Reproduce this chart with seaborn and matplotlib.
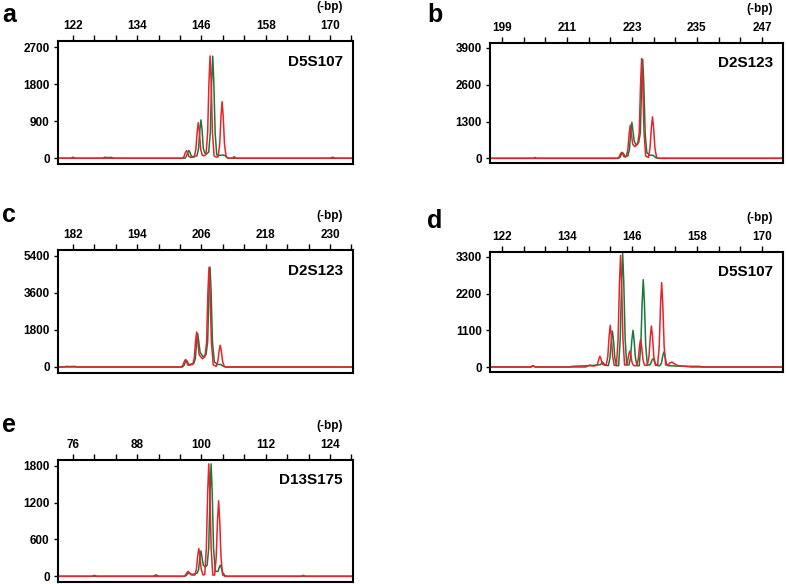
import matplotlib
matplotlib.use("Agg")
import numpy as np
import pandas as pd
import matplotlib.pyplot as plt
import seaborn as sns

# ---- data (size in bp, signal in RFU) ----
# panel a : D5S107
a_ticks = [122, 134, 146, 158, 170]
a_yticks = [0, 900, 1800, 2700]
a_green_bp = [119.2, 121.6, 122.0, 122.4, 127.5, 128.0, 128.5, 129.2, 129.6, 142.9,
              143.2, 143.45, 143.65, 143.85, 144.1, 144.4,
              145.15, 145.45, 145.7, 145.9, 146.1, 146.35, 146.65, 147.0,
              147.35, 147.65, 147.9, 148.1, 148.3, 148.55, 148.85,
              149.4, 150.0, 150.5, 151.0, 170.0, 170.5, 171.0, 174.3]
a_green_rfu = [0, 0, 25, 0, 0, 25, 15, 20, 0, 0,
               48, 142, 190, 142, 48, 40,
               60, 233, 699, 932, 699, 233, 120, 110,
               150, 620, 1860, 2480, 1860, 620, 80,
               70, 80, 60, 0, 0, 25, 0, 0]
a_red_bp = [119.2, 142.45, 142.75, 143.0, 143.2, 143.4, 143.65, 143.95,
            144.65, 144.95, 145.2, 145.4, 145.6, 145.85, 146.15, 146.5,
            146.85, 147.15, 147.4, 147.6, 147.8, 148.05, 148.35, 148.7,
            149.1, 149.4, 149.65, 149.85, 150.05, 150.3, 150.6,
            151.0, 151.8, 152.1, 152.4, 174.3]
a_red_rfu = [0, 0, 46, 139, 185, 139, 46, 20,
             30, 217, 650, 866, 650, 217, 70, 60,
             90, 622, 1866, 2488, 1866, 622, 60, 30,
             30, 344, 1033, 1377, 1033, 344, 30,
             0, 0, 40, 0, 0]

# panel b : D2S123
b_ticks = [199, 211, 223, 235, 247]
b_yticks = [0, 1300, 2600, 3900]
b_green_bp = [196.8, 204.8, 205.1, 205.4, 220.55,
              220.85, 221.1, 221.3, 221.5, 221.75, 222.0,
              222.25, 222.55, 222.8, 223.0, 223.2, 223.45, 223.8,
              224.25, 224.55, 224.8, 225.0, 225.2, 225.45, 225.75,
              226.3, 226.9, 227.4, 227.8, 250.9]
b_green_rfu = [0, 0, 30, 0, 0,
               50, 150, 200, 150, 50, 80,
               80, 318, 953, 1270, 953, 600, 470,
               560, 875, 2625, 3500, 2625, 875, 200,
               110, 110, 20, 0, 0]
b_red_bp = [196.8, 220.35, 220.65, 220.9, 221.1, 221.3, 221.55,
            221.95, 222.25, 222.5, 222.7, 222.9, 223.15, 223.55,
            224.05, 224.35, 224.6, 224.8, 225.0, 225.25, 225.55,
            226.05, 226.35, 226.6, 226.8, 227.0, 227.25, 227.55, 228.0, 250.9]
b_red_rfu = [0, 0, 53, 159, 212, 159, 53,
             60, 294, 880, 1174, 880, 500, 409,
             500, 882, 2645, 3526, 2645, 882, 80,
             30, 367, 1100, 1467, 1100, 367, 30, 0, 0]

# panel c : D2S123
c_ticks = [182, 194, 206, 218, 230]
c_yticks = [0, 1800, 3600, 5400]
c_green_bp = [179.2, 180.2, 180.8, 181.5, 182.3, 182.8, 202.45,
              202.75, 203.0, 203.2, 203.4, 203.65, 203.95,
              204.55, 204.85, 205.1, 205.3, 205.5, 205.75, 206.3,
              206.85, 207.15, 207.4, 207.6, 207.8, 208.05, 208.4,
              209.0, 209.6, 210.1, 210.5, 234.3]
c_green_rfu = [0, 0, 30, 20, 30, 0, 0,
               83, 248, 330, 248, 83, 140,
               160, 405, 1215, 1620, 1215, 700, 500,
               600, 1213, 3638, 4850, 3638, 1213, 250,
               120, 120, 30, 0, 0]
c_red_bp = [179.2, 202.25, 202.55, 202.8, 203.0, 203.2, 203.45, 203.8,
            204.35, 204.65, 204.9, 205.1, 205.3, 205.55, 206.15,
            206.65, 206.95, 207.2, 207.4, 207.6, 207.85, 208.2,
            208.75, 209.05, 209.3, 209.5, 209.7, 209.95, 210.25, 210.6, 234.3]
c_red_rfu = [0, 0, 90, 270, 360, 270, 90, 90,
             120, 425, 1275, 1700, 1275, 600, 400,
             500, 1209, 3627, 4836, 3627, 1209, 100,
             30, 264, 791, 1055, 791, 264, 30, 0, 0]

# panel d : D5S107
d_ticks = [122, 134, 146, 158, 170]
d_yticks = [0, 1100, 2200, 3300]
d_green_bp = [119.8, 127.4, 127.8, 128.2, 134.5, 135.0, 136.5, 138.5, 139.5, 140.2, 140.6, 141.0,
              141.65, 141.95, 142.2, 142.4, 142.6, 142.85, 143.15,
              143.55, 143.85, 144.1, 144.3, 144.5, 144.75, 145.05,
              145.45, 145.75, 146.0, 146.2, 146.4, 146.65, 146.95,
              147.35, 147.65, 147.9, 148.1, 148.3, 148.55, 148.85,
              149.3, 149.5, 149.75, 149.9, 150.05, 150.3, 150.8,
              151.15, 151.45, 151.7, 151.9, 152.1, 152.35, 152.65,
              154.0, 156.0, 158.5, 159.0, 173.9]
d_green_rfu = [0, 0, 40, 0, 0, 20, 30, 40, 60, 70, 150, 60,
               40, 270, 810, 1080, 810, 270, 40,
               40, 850, 2550, 3400, 2550, 850, 60,
               60, 275, 825, 1100, 825, 275, 40,
               40, 655, 1965, 2620, 1965, 655, 60,
               60, 120, 220, 250, 220, 100, 40,
               40, 113, 338, 450, 338, 113, 40,
               30, 20, 20, 0, 0]
d_red_bp = [119.8, 127.3, 127.7, 128.1, 137.5, 138.2, 138.8,
            139.35, 139.65, 139.9, 140.1, 140.3, 140.55, 140.85,
            141.25, 141.55, 141.8, 142.0, 142.2, 142.45, 142.75,
            143.15, 143.45, 143.7, 143.9, 144.1, 144.35, 144.65,
            144.85, 145.15, 145.4, 145.6, 145.8, 146.05, 146.35,
            146.85, 147.15, 147.4, 147.6, 147.8, 148.05, 148.35,
            148.85, 149.15, 149.4, 149.6, 149.8, 150.05, 150.35,
            150.75, 151.05, 151.3, 151.5, 151.7, 151.95, 152.25,
            152.7, 153.0, 153.4, 153.8, 154.5, 156.0, 157.0, 173.9]
d_red_rfu = [0, 0, 40, 0, 0, 60, 30,
             40, 80, 240, 320, 240, 80, 60,
             60, 313, 938, 1250, 938, 313, 50,
             50, 838, 2513, 3350, 2513, 838, 60,
             60, 120, 360, 480, 360, 120, 40,
             40, 208, 623, 830, 623, 208, 50,
             50, 308, 923, 1230, 923, 308, 50,
             50, 633, 1898, 2530, 1898, 633, 60,
             60, 120, 150, 100, 40, 20, 0, 0]

# panel e : D13S175
e_ticks = [76, 88, 100, 112, 124]
e_yticks = [0, 600, 1200, 1800]
e_green_bp = [73.2, 91.0, 91.5, 92.0, 96.9,
              97.2, 97.5, 97.7, 97.9, 98.2, 98.8,
              99.15, 99.45, 99.7, 99.9, 100.1, 100.35, 100.7,
              101.05, 101.35, 101.6, 101.8, 102.0, 102.25, 102.6,
              103.1, 103.3, 103.5, 103.7, 103.95, 104.4, 104.8, 128.3]
e_green_rfu = [0, 0, 25, 0, 0,
               20, 45, 60, 45, 30, 40,
               50, 103, 310, 413, 310, 180, 150,
               180, 458, 1373, 1830, 1373, 458, 80,
               80, 140, 180, 140, 60, 10, 0, 0]
e_red_bp = [73.2, 79.5, 80.0, 80.5, 96.8,
            97.0, 97.3, 97.5, 97.7, 98.0, 98.4,
            98.75, 99.05, 99.3, 99.5, 99.7, 99.95, 100.3,
            100.61, 100.91, 101.16, 101.36, 101.56, 101.81, 102.11,
            102.45, 102.75, 103.0, 103.2, 103.4, 103.65, 103.95,
            104.4, 118.5, 119.0, 119.5, 128.3]
e_red_rfu = [0, 0, 15, 0, 0,
             20, 60, 80, 60, 25, 20,
             20, 113, 339, 452, 339, 113, 20,
             30, 458, 1373, 1830, 1373, 458, 20,
             20, 307, 922, 1229, 922, 307, 20,
             0, 0, 15, 0, 0]

panels = [
    ("a", "D5S107", a_ticks, a_yticks, a_green_bp, a_green_rfu, a_red_bp, a_red_rfu),
    ("b", "D2S123", b_ticks, b_yticks, b_green_bp, b_green_rfu, b_red_bp, b_red_rfu),
    ("c", "D2S123", c_ticks, c_yticks, c_green_bp, c_green_rfu, c_red_bp, c_red_rfu),
    ("d", "D5S107", d_ticks, d_yticks, d_green_bp, d_green_rfu, d_red_bp, d_red_rfu),
    ("e", "D13S175", e_ticks, e_yticks, e_green_bp, e_green_rfu, e_red_bp, e_red_rfu),
]

# layout in pixels: box (left, top, right, bottom), letter (x, baseline), x range, y range
layout = {
    "a": ((58, 41, 353, 164), (2, 22), (119.2, 174.3), (-140, 2850)),
    "b": ((490, 43, 783, 163), (427, 22), (196.8, 250.9), (-166, 4076)),
    "c": ((58, 250, 353, 373), (2, 222), (179.2, 234.3), (-292, 5677)),
    "d": ((490, 252, 783, 372), (427, 228), (119.8, 173.9), (-150, 3450)),
    "e": ((58, 460, 353, 582), (2, 432), (73.2, 128.3), (-93, 1893)),
}

sns.set_style("white")
plt.rcParams["font.family"] = ["Liberation Sans", "DejaVu Sans"]
plt.rcParams["font.weight"] = "bold"
plt.rcParams["text.color"] = "black"
plt.rcParams["xtick.color"] = "black"
plt.rcParams["ytick.color"] = "black"

W, H = 787, 584
fig = plt.figure(figsize=(W / 100, H / 100), dpi=100)
pal = {"green": "#167a3c", "red": "#e8232a"}

for letter, marker, ticks, yticks, gx, gy, rx, ry in panels:
    (l, t, r, b), (lx, ly), xlim, ylim = layout[letter]
    ax = fig.add_axes([l / W, 1 - b / H, (r - l) / W, (b - t) / H])
    df = pd.concat([
        pd.DataFrame({"bp": gx, "rfu": gy, "dye": "green"}),
        pd.DataFrame({"bp": rx, "rfu": ry, "dye": "red"}),
    ])
    sns.lineplot(data=df, x="bp", y="rfu", hue="dye", hue_order=["green", "red"],
                 palette=pal, sort=False, estimator=None, lw=1.1, legend=False, ax=ax)
    ax.set_xlim(*xlim)
    ax.set_ylim(*ylim)
    ax.set_xlabel("")
    ax.set_ylabel("")

    ax.xaxis.tick_top()
    ax.set_xticks(ticks)
    ax.set_xticklabels([str(v) for v in ticks])
    ax.set_xticks(np.arange(ticks[0], xlim[1], 4), minor=True)
    ax.tick_params(axis="x", which="both", direction="out", length=4.3, width=1.0,
                   top=True, bottom=False, labeltop=True, labelbottom=False,
                   pad=2, labelsize=8.5)
    ax.set_yticks(yticks)
    ax.set_yticklabels([str(v) for v in yticks])
    ax.tick_params(axis="y", direction="out", length=3, width=1.0, left=True,
                   pad=3, labelsize=8.5)
    for s in ax.spines.values():
        s.set_linewidth(1.5)
        s.set_color("black")

    ax.text(0.966, 0.89, marker, transform=ax.transAxes, ha="right", va="top",
            fontsize=11, fontweight="bold")
    ax.text(0.966, 1 + 34 / (b - t), "(-bp)", transform=ax.transAxes, ha="right",
            va="center", fontsize=8.5, fontweight="bold")
    fig.text(lx / W, 1 - ly / H, letter, ha="left", va="baseline",
             fontsize=18, fontweight="bold")

fig.savefig("out.png", dpi=100)
